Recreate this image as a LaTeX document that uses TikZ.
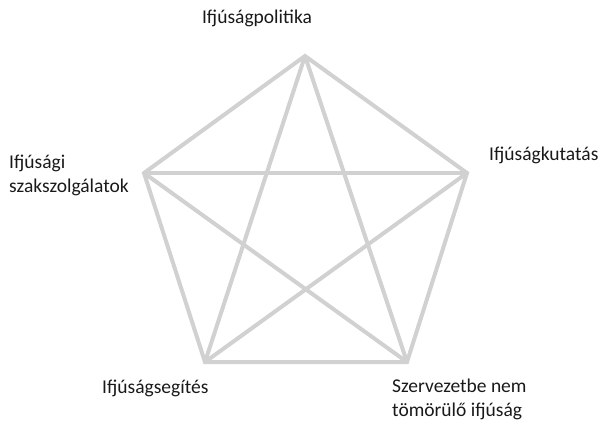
\documentclass[tikz,border=0pt]{standalone}
\usepackage{fontspec}
\setmainfont{Carlito}
\begin{document}
\begin{tikzpicture}[x=1pt,y=-1pt,
  edge/.style={draw=black!18,line width=4pt},
  lbl/.style={inner sep=0pt,text=black!90,font=\fontsize{19.5}{24}\selectfont}]
\useasboundingbox (0,0) rectangle (603,421);
\coordinate (t) at (305,56);
\coordinate (r) at (467,173);
\coordinate (l) at (144,173);
\coordinate (bl) at (205,362);
\coordinate (br) at (407,362);
\draw[edge,line join=miter] (t) -- (r) -- (br) -- (bl) -- (l) -- cycle;
\draw[edge] (t) -- (bl);
\draw[edge] (t) -- (br);
\draw[edge] (l) -- (r);
\draw[edge] (l) -- (br);
\draw[edge] (r) -- (bl);
\node[lbl] (lt) at (257,18) {Ifjúságpolitika};
\node[lbl,anchor=west] (lr) at (489,155) {Ifjúságkutatás};
\node[lbl,anchor=west,align=left] (ll) at (9,175) {Ifjúsági\\szakszolgálatok};
\node[lbl,anchor=west] (lbl1) at (102,388) {Ifjúságsegítés};
\node[lbl,anchor=west,align=left] (lbr) at (392,399) {Szervezetbe nem\\tömörülő ifjúság};
\end{tikzpicture}
\end{document}
